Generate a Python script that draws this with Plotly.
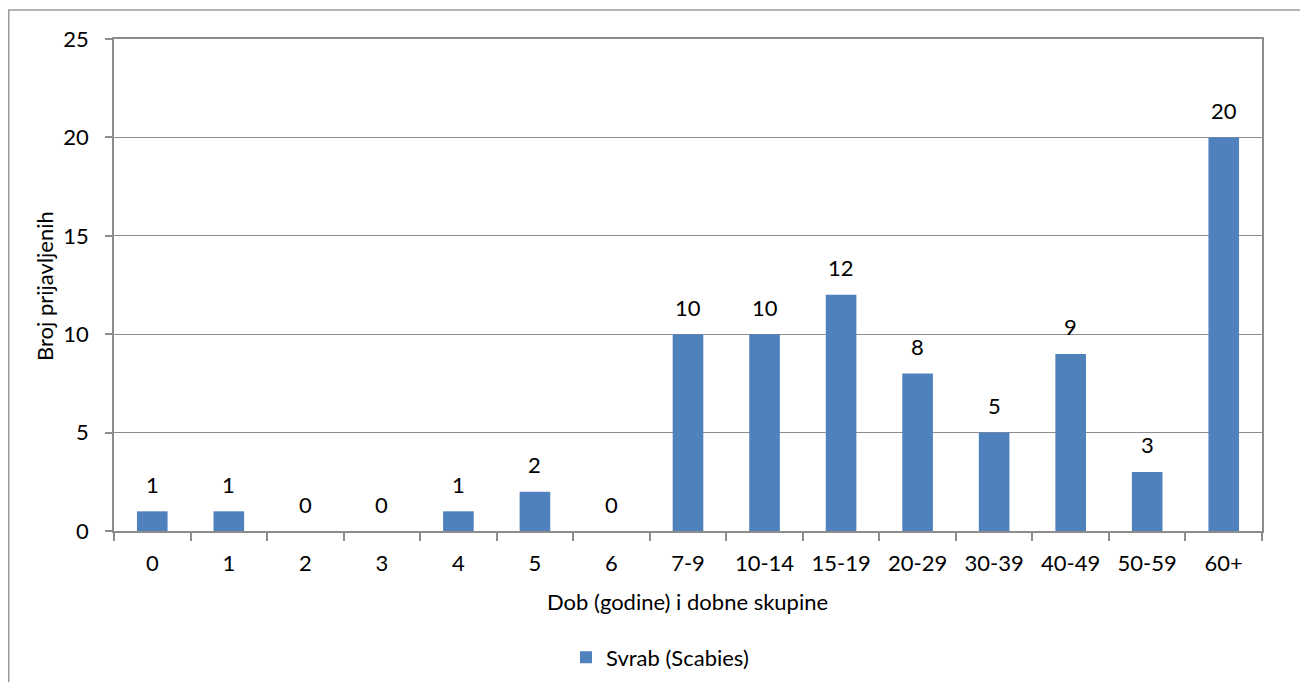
import plotly.graph_objects as go

categories = ["0", "1", "2", "3", "4", "5", "6", "7-9", "10-14", "15-19",
              "20-29", "30-39", "40-49", "50-59", "60+"]
values = [1, 1, 0, 0, 1, 2, 0, 10, 10, 12, 8, 5, 9, 3, 20]
series_name = "Svrab (Scabies)"
x_title = "Dob (godine) i dobne skupine"
y_title = "Broj prijavljenih"
y_ticks = [0, 5, 10, 15, 20, 25]

FONT = "Lato"
FS = 22
GRID = "#8c8c8c"
OFF = 8  # page body margin offset
W, H = 1308, 682
# plot area in page (reference) pixels
L, R, T, B = 114, 1262, 39, 533
Lf, Rf, Tf, Bf = L - OFF, R - OFF, T - OFF, B - OFF
pw, ph = Rf - Lf, Bf - Tf


def px(x):
    return (x - OFF - Lf) / pw


def py(y):
    return (Bf - (y - OFF)) / ph


fig = go.Figure()
fig.add_trace(go.Bar(
    x=categories, y=values, name=series_name,
    marker=dict(color="#4F81BD", line=dict(width=0)),
    cliponaxis=False,
))

annotations = [
    dict(x=c, y=v, xref="x", yref="y", text=str(v), showarrow=False,
         xanchor="center", yanchor="middle", yshift=27,
         font=dict(family=FONT, size=FS, color="#000000"))
    for c, v in zip(categories, values)
]
annotations += [
    dict(text=x_title, xref="paper", yref="paper", x=px(687), y=py(604),
         xanchor="center", yanchor="middle", showarrow=False,
         font=dict(family=FONT, size=FS)),
    dict(text=y_title, xref="paper", yref="paper", x=px(45), y=py(287),
         xanchor="center", yanchor="middle", showarrow=False, textangle=-90,
         font=dict(family=FONT, size=FS)),
]

fig.update_layout(
    width=W, height=H,
    margin=dict(l=Lf, r=W - Rf, t=Tf, b=H - Bf, pad=0),
    paper_bgcolor="white", plot_bgcolor="white",
    bargap=0.6,
    font=dict(family=FONT, size=FS, color="#000000"),
    showlegend=True,
    legend=dict(orientation="h", x=px(660), xanchor="center", y=py(660), yanchor="middle",
                font=dict(family=FONT, size=FS), bgcolor="rgba(0,0,0,0)"),
    xaxis=dict(
        type="category", showline=True, linecolor=GRID, linewidth=1.5, mirror=True,
        ticks="outside", ticklen=8, tickcolor=GRID, tickwidth=1.5, tickson="boundaries",
        showgrid=False, tickfont=dict(family=FONT, size=FS), ticklabelstandoff=12,
    ),
    yaxis=dict(
        range=[0, 25], tickvals=y_ticks, showline=True, linecolor=GRID, linewidth=1.5,
        mirror=True, ticks="outside", ticklen=7, tickcolor=GRID, tickwidth=1.5,
        showgrid=True, gridcolor=GRID, gridwidth=1, zeroline=False,
        tickfont=dict(family=FONT, size=FS), ticklabelstandoff=12,
    ),
    annotations=annotations,
    shapes=[
        dict(type="rect", xref="paper", yref="paper",
             x0=px(8.75), x1=px(1307), y0=py(10), y1=py(720),
             line=dict(color="#9a9a9a", width=1.5), fillcolor="rgba(0,0,0,0)", layer="below"),
    ],
)

fig.write_html("out.html")
